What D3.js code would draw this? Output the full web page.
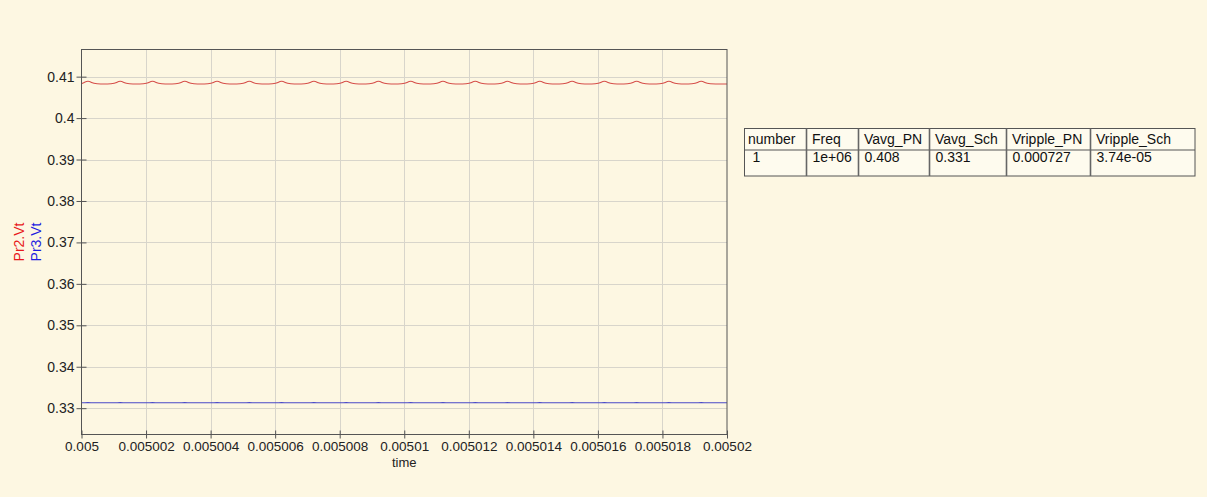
<!DOCTYPE html>
<html>
<head>
<meta charset="utf-8">
<script src="https://cdn.jsdelivr.net/npm/d3@7"></script>
<style>
  html, body { margin: 0; padding: 0; background: #fdf7e2; }
  svg { display: block; }
  text { font-family: "Liberation Sans", Arial, Helvetica, sans-serif; }
</style>
</head>
<body>
<svg id="chart" width="1207" height="497"></svg>
<script>
// ---------- data ----------
const t0 = 0.005;                 // seconds
// sample times, microseconds after t0
const timeUs = [
  0,0.08,0.2,0.32,0.4, 1,1.08,1.2,1.32,1.4, 2,2.08,2.2,2.32,2.4, 3,3.08,3.2,3.32,3.4,
  4,4.08,4.2,4.32,4.4, 5,5.08,5.2,5.32,5.4, 6,6.08,6.2,6.32,6.4, 7,7.08,7.2,7.32,7.4,
  8,8.08,8.2,8.32,8.4, 9,9.08,9.2,9.32,9.4, 10,10.08,10.2,10.32,10.4, 11,11.08,11.2,11.32,11.4,
  12,12.08,12.2,12.32,12.4, 13,13.08,13.2,13.32,13.4, 14,14.08,14.2,14.32,14.4, 15,15.08,15.2,15.32,15.4,
  16,16.08,16.2,16.32,16.4, 17,17.08,17.2,17.32,17.4, 18,18.08,18.2,18.32,18.4, 19,19.08,19.2,19.32,19.4,
  20
];
// Pr2.Vt (red)
const pr2 = [
  0.40830,0.40856,0.40905,0.40855,0.40822, 0.40822,0.40855,0.40905,0.40855,0.40822,
  0.40822,0.40855,0.40905,0.40855,0.40822, 0.40822,0.40855,0.40905,0.40855,0.40822,
  0.40822,0.40855,0.40905,0.40855,0.40822, 0.40822,0.40855,0.40905,0.40855,0.40822,
  0.40822,0.40855,0.40905,0.40855,0.40822, 0.40822,0.40855,0.40905,0.40855,0.40822,
  0.40822,0.40855,0.40905,0.40855,0.40822, 0.40822,0.40855,0.40905,0.40855,0.40822,
  0.40822,0.40855,0.40905,0.40855,0.40822, 0.40822,0.40855,0.40905,0.40855,0.40822,
  0.40822,0.40855,0.40905,0.40855,0.40822, 0.40822,0.40855,0.40905,0.40855,0.40822,
  0.40822,0.40855,0.40905,0.40855,0.40822, 0.40822,0.40855,0.40905,0.40855,0.40822,
  0.40822,0.40855,0.40905,0.40855,0.40822, 0.40822,0.40855,0.40905,0.40855,0.40822,
  0.40822,0.40855,0.40905,0.40855,0.40822, 0.40822,0.40855,0.40905,0.40855,0.40822,
  0.40822
];
// Pr3.Vt (blue)
const pr3 = [
  0.33130,0.33131,0.33134,0.33131,0.33130, 0.33130,0.33131,0.33134,0.33131,0.33130,
  0.33130,0.33131,0.33134,0.33131,0.33130, 0.33130,0.33131,0.33134,0.33131,0.33130,
  0.33130,0.33131,0.33134,0.33131,0.33130, 0.33130,0.33131,0.33134,0.33131,0.33130,
  0.33130,0.33131,0.33134,0.33131,0.33130, 0.33130,0.33131,0.33134,0.33131,0.33130,
  0.33130,0.33131,0.33134,0.33131,0.33130, 0.33130,0.33131,0.33134,0.33131,0.33130,
  0.33130,0.33131,0.33134,0.33131,0.33130, 0.33130,0.33131,0.33134,0.33131,0.33130,
  0.33130,0.33131,0.33134,0.33131,0.33130, 0.33130,0.33131,0.33134,0.33131,0.33130,
  0.33130,0.33131,0.33134,0.33131,0.33130, 0.33130,0.33131,0.33134,0.33131,0.33130,
  0.33130,0.33131,0.33134,0.33131,0.33130, 0.33130,0.33131,0.33134,0.33131,0.33130,
  0.33130,0.33131,0.33134,0.33131,0.33130, 0.33130,0.33131,0.33134,0.33131,0.33130,
  0.33130
];
const xTicks = [0.005,0.005002,0.005004,0.005006,0.005008,0.00501,0.005012,0.005014,0.005016,0.005018,0.00502];
const xTickLabels = ["0.005","0.005002","0.005004","0.005006","0.005008","0.00501","0.005012","0.005014","0.005016","0.005018","0.00502"];
const yTicks = [0.33,0.34,0.35,0.36,0.37,0.38,0.39,0.4,0.41];
const yTickLabels = ["0.33","0.34","0.35","0.36","0.37","0.38","0.39","0.4","0.41"];
const xDomain = [0.005, 0.00502];
const yDomain = [0.32365, 0.41655];
const tableHeaders = ["number","Freq","Vavg_PN","Vavg_Sch","Vripple_PN","Vripple_Sch"];
const tableRow = ["1","1e+06","0.408","0.331","0.000727","3.74e-05"];

// ---------- layout ----------
const svg = d3.select("#chart");
const L = 81.5, R = 727, T = 49.5, B = 434.5;
const x = d3.scaleLinear().domain(xDomain).range([L, R]);
const y = d3.scaleLinear().domain(yDomain).range([B, T]);

// grid
const grid = svg.append("g");
grid.selectAll("line.vg").data(xTicks.slice(1, -1)).join("line")
  .attr("x1", d => Math.round(x(d)) + 0.5).attr("x2", d => Math.round(x(d)) + 0.5)
  .attr("y1", T).attr("y2", B)
  .attr("stroke", "#d8d5cb").attr("stroke-width", 1);
grid.selectAll("line.hg").data(yTicks).join("line")
  .attr("y1", d => Math.round(y(d)) + 0.5).attr("y2", d => Math.round(y(d)) + 0.5)
  .attr("x1", L).attr("x2", R)
  .attr("stroke", "#d8d5cb").attr("stroke-width", 1);

// lines
const pts = (vals) => timeUs.map((t, i) => [t0 + t * 1e-6, vals[i]]);
const line = d3.line().x(d => x(d[0])).y(d => y(d[1])).curve(d3.curveBasis);
svg.append("path").attr("d", line(pts(pr2))).attr("fill", "none")
  .attr("stroke", "#d64f4a").attr("stroke-width", 1.1);
svg.append("path").attr("d", line(pts(pr3))).attr("fill", "none")
  .attr("stroke", "#4a4ac8").attr("stroke-width", 1.1);

// frame
svg.append("rect").attr("x", L).attr("y", T).attr("width", R - L).attr("height", B - T)
  .attr("fill", "none").attr("stroke", "#555").attr("stroke-width", 1);

// axes
const xAxis = d3.axisBottom(x).tickValues(xTicks)
  .tickFormat((d, i) => xTickLabels[i]).tickSizeInner(4).tickSizeOuter(0).tickPadding(3);
const gx = svg.append("g").attr("transform", `translate(0,${B})`).call(xAxis);
gx.select(".domain").remove();
gx.selectAll(".tick line").attr("y1", -4).attr("y2", 4).attr("stroke", "#555");
gx.selectAll(".tick text").attr("font-size", 13.5).attr("fill", "#222")
  .attr("font-family", '"Liberation Sans", Arial, sans-serif');

const yAxis = d3.axisLeft(y).tickValues(yTicks)
  .tickFormat((d, i) => yTickLabels[i]).tickSizeInner(5).tickSizeOuter(0).tickPadding(2);
const gy = svg.append("g").attr("transform", `translate(${L},0)`).call(yAxis);
gy.select(".domain").remove();
gy.selectAll(".tick line").attr("x1", -5).attr("x2", 5).attr("stroke", "#555");
gy.selectAll(".tick text").attr("font-size", 14).attr("fill", "#222")
  .attr("font-family", '"Liberation Sans", Arial, sans-serif');

// axis titles
svg.append("text").attr("x", (L + R) / 2).attr("y", 467).attr("text-anchor", "middle")
  .attr("font-size", 13).attr("fill", "#222").text("time");
const yc = (T + B) / 2;
svg.append("text").attr("transform", `translate(24,${yc}) rotate(-90)`).attr("text-anchor", "middle")
  .attr("font-size", 14).attr("fill", "#e8191b").text("Pr2.Vt");
svg.append("text").attr("transform", `translate(41,${yc}) rotate(-90)`).attr("text-anchor", "middle")
  .attr("font-size", 14).attr("fill", "#1d1de0").text("Pr3.Vt");

// table
const colX = [744.5, 806.5, 858.5, 929.5, 1006.5, 1090.5, 1195];
const tTop = 128.5, tMid = 150, tBot = 176;
const tg = svg.append("g");
tg.append("rect").attr("x", colX[0]).attr("y", tTop).attr("width", colX[6] - colX[0])
  .attr("height", tBot - tTop).attr("fill", "#fefbee").attr("stroke", "#555").attr("stroke-width", 1);
tg.append("line").attr("x1", colX[0]).attr("x2", colX[6]).attr("y1", tMid).attr("y2", tMid)
  .attr("stroke", "#555").attr("stroke-width", 1);
tg.selectAll("line.col").data(colX.slice(1, 6)).join("line")
  .attr("x1", d => d).attr("x2", d => d).attr("y1", tTop).attr("y2", tBot)
  .attr("stroke", "#666").attr("stroke-width", 1.6);
tg.selectAll("text.h").data(tableHeaders).join("text")
  .attr("x", (d, i) => colX[i] + (i === 0 ? 3.5 : 5.5)).attr("y", 143.5)
  .attr("font-size", 14).attr("fill", "#111").text(d => d);
tg.selectAll("text.r").data(tableRow).join("text")
  .attr("x", (d, i) => colX[i] + (i === 0 ? 8 : 6)).attr("y", 162)
  .attr("font-size", 14).attr("fill", "#111").text(d => d);
</script>
</body>
</html>
